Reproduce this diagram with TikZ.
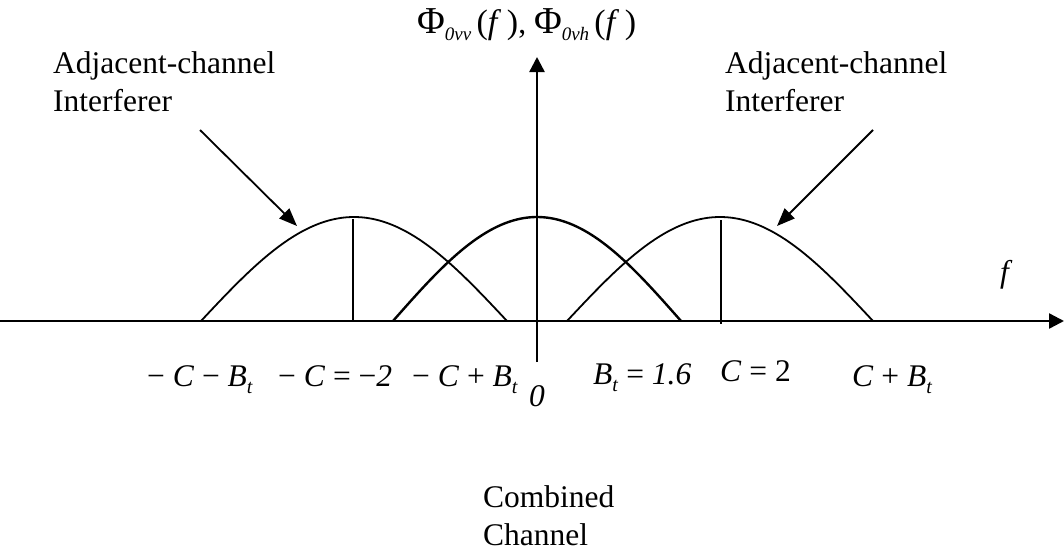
\documentclass[tikz,border=0pt]{standalone}
\usepackage{fontspec}
\setmainfont{Liberation Serif}
\usetikzlibrary{arrows.meta}
\newcommand\sbt{\raisebox{-7pt}{\fontsize{20}{20}\selectfont\textit{t}}}
\newcommand\mysub[1]{\raisebox{-7pt}{\fontsize{19}{19}\selectfont\itshape #1}}
\begin{document}
\begin{tikzpicture}[x=1pt,y=-1pt,
  lbl/.style={inner sep=0pt, anchor=base west, font=\fontsize{31.5}{38}\selectfont},
  blk/.style={inner sep=0pt, anchor=north west, align=left, font=\fontsize{31.5}{38}\selectfont},
  curve/.style={line width=1.8pt},
  midcurve/.style={line width=2.4pt},
  axisline/.style={line width=2.4pt, -{Triangle[length=15pt,width=15pt]}},
  pointer/.style={line width=1.8pt, -{Triangle[length=18pt,width=14pt]}},
  mark line/.style={line width=1.8pt}]
\useasboundingbox (0,0) rectangle (1064,554);
% axes
\coordinate (xl) at (0,321);
\coordinate (xr) at (1064,321);
\coordinate (yb) at (537,362);
\coordinate (yt) at (537,57);
\draw[axisline] (xl) -- (xr);
\draw[axisline] (yb) -- (yt);
% curves
\draw[curve] plot[domain=-1:1,samples=60,smooth] ({354+153*\x},{321-104*cos(90*\x)});
\draw[midcurve] plot[domain=-1:1,samples=60,smooth] ({537+144*\x},{321-104*cos(90*\x)});
\draw[curve] plot[domain=-1:1,samples=60,smooth] ({720+153*\x},{321-104*cos(90*\x)});
% vertical marks
\coordinate (lv1) at (353,219);
\coordinate (lv2) at (353,321);
\coordinate (rv1) at (721,220);
\coordinate (rv2) at (721,324);
\draw[mark line] (lv1) -- (lv2);
\draw[mark line] (rv1) -- (rv2);
% texts
\node[blk] (lt) at (53,51.5) {Adjacent-channel\\Interferer};
\node[blk] (rt) at (725,51.5) {Adjacent-channel\\Interferer};
\node[blk] (cc) at (483,485.5) {Combined\\Channel};
\node[lbl] (phi) at (417,33) {{\fontsize{38}{38}\selectfont Φ}\mysub{0vv}\,{\fontsize{34}{38}\selectfont(\textit{f}\,)}, {\fontsize{38}{38}\selectfont Φ}\mysub{0vh}\,{\fontsize{34}{38}\selectfont(\textit{f}\,)}};
\node[lbl] (fl) at (1000,282) {\textit{f}};
\node[lbl] (l1) at (147,386) {− \textit{C} − \textit{B}\sbt};
\node[lbl] (l2) at (278,386) {− \textit{C} = −\textit{2}};
\node[lbl] (l3) at (412,386) {− \textit{C} + \textit{B}\sbt};
\node[lbl, anchor=base] (l0) at (537,406) {\textit{0}};
\node[lbl] (l4) at (593,384) {\textit{B}\sbt\ = \textit{1.6}};
\node[lbl] (l5) at (720,381) {\textit{C} = 2};
\node[lbl] (l6) at (852,386) {\textit{C} + \textit{B}\sbt};
% pointers
\coordinate (la1) at (200,130);
\coordinate (la2) at (297,226);
\coordinate (ra1) at (873,130);
\coordinate (ra2) at (777,226);
\draw[pointer] (la1) -- (la2);
\draw[pointer] (ra1) -- (ra2);
\end{tikzpicture}
\end{document}
